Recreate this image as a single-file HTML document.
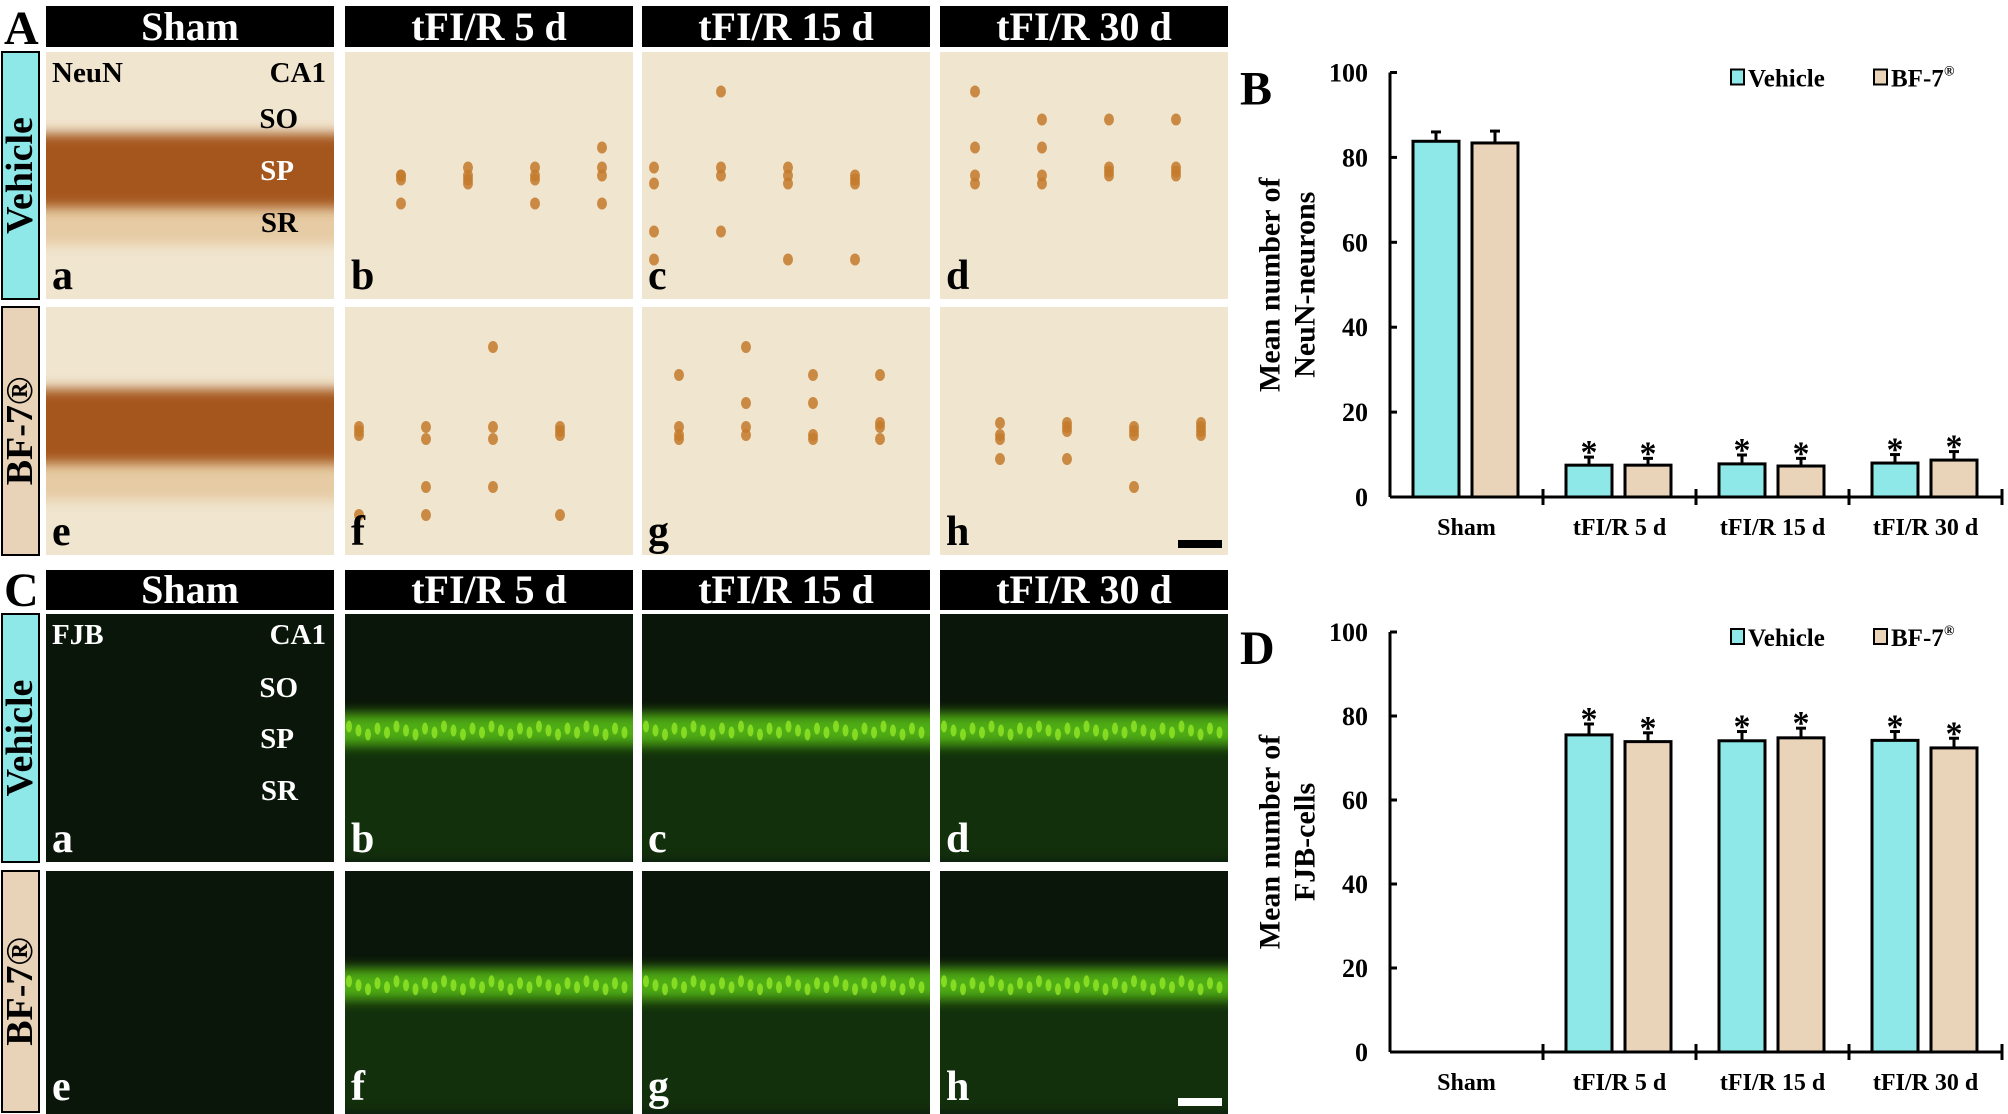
<!DOCTYPE html>
<html><head><meta charset="utf-8"><style>
html,body{margin:0;padding:0;background:#fff;}
svg{display:block;font-family:"Liberation Serif",serif;font-weight:bold;}
</style></head><body>
<svg id="fig" width="2008" height="1114" viewBox="0 0 2008 1114" xmlns="http://www.w3.org/2000/svg">
<defs id="defs">
<filter id="blur6" x="-20%" y="-50%" width="140%" height="200%"><feGaussianBlur stdDeviation="6"/></filter>
<filter id="blur3" x="-20%" y="-50%" width="140%" height="200%"><feGaussianBlur stdDeviation="3"/></filter>
</defs>
<g id="micro"></g>
<g id="chartB"></g>
<g id="chartD"></g>
</svg>
<script>
// ---------- Chart data ----------
const categories = ["Sham", "tFI/R 5 d", "tFI/R 15 d", "tFI/R 30 d"];
const yTicks = [0, 20, 40, 60, 80, 100];
const neunVehicle = [83.8, 7.5, 7.8, 8.0];
const neunVehicleErr = [2.2, 1.9, 2.1, 2.0];
const neunBF7 = [83.4, 7.5, 7.3, 8.7];
const neunBF7Err = [2.8, 1.6, 1.8, 2.0];
const neunStars = [false, true, true, true];
const fjbVehicle = [0, 75.5, 74.1, 74.2];
const fjbVehicleErr = [0, 2.6, 2.2, 2.1];
const fjbBF7 = [0, 73.9, 74.8, 72.4];
const fjbBF7Err = [0, 2.1, 2.3, 2.3];
const fjbStars = [false, true, true, true];

const NS = "http://www.w3.org/2000/svg";
function mk(tag, attrs, parent, text) {
  const e = document.createElementNS(NS, tag);
  for (const k in attrs) e.setAttribute(k, attrs[k]);
  if (text !== undefined) e.textContent = text;
  parent.appendChild(e);
  return e;
}
const defs = document.getElementById("defs");
let clipN = 0;
function clipFor(x, y, w, h) {
  const id = "clip" + (clipN++);
  const cp = mk("clipPath", {id: id}, defs);
  mk("rect", {x: x, y: y, width: w, height: h}, cp);
  return "url(#" + id + ")";
}

// ---------- Micrograph panels ----------
const micro = document.getElementById("micro");
const colX = [46, 345, 642, 940];
const colW = 288;
const heads = ["Sham", "tFI/R 5 d", "tFI/R 15 d", "tFI/R 30 d"];
const rowsA = [[52, 299], [307, 555]];
const rowsC = [[614, 862], [871, 1114]];
const letters = [["a","b","c","d"],["e","f","g","h"]];

function header(y0, y1, idx) {
  const r = mk("rect", {x: colX[idx], y: y0, width: colW, height: y1 - y0, fill: "#000"}, micro);
  
  
  const t = mk("text", {x: colX[idx] + colW/2, y: y1 - 7, "text-anchor": "middle", "font-size": 40, fill: "#fff"}, micro, heads[idx]);
  
  
}
function sideLabel(y0, y1, txt, fill) {
  const r = mk("rect", {x: 2, y: y0, width: 37, height: y1 - y0, fill: fill, stroke: "#000", "stroke-width": 2}, micro);
  
  
  const cy = (y0 + y1) / 2;
  const t = mk("text", {x: 20, y: cy, transform: `rotate(-90 20 ${cy})`, "text-anchor": "middle", "dominant-baseline": "central", "font-size": 38, fill: "#000"}, micro, txt);
  
  
}

function brownPanel(x, y0, y1, sham, letter, seed) {
  const h = y1 - y0;
  const g = mk("g", {"clip-path": clipFor(x, y0, colW, h)}, micro);
  
  
  mk("rect", {x: x, y: y0, width: colW, height: h, fill: "#f0e5cf"}, g);
  if (sham) {
    mk("rect", {x: x - 20, y: y0 + h*0.56, width: colW + 40, height: h*0.22, fill: "#e2c192", filter: "url(#blur6)", opacity: 0.7}, g);
    mk("rect", {x: x - 20, y: y0 + h*0.33, width: colW + 40, height: h*0.3, fill: "#a5561a", filter: "url(#blur6)"}, g);
  } else {
    for (let i = 0; i < 16; i++) {
      const s = (seed * 37 + i * 53) % 97;
      const cx = x + 10 + ((i * 67 + seed * 23) % 268);
      const off = (i % 3 === 0) ? ((s % 7) - 3) * 28 : ((s % 5) - 2) * 4;
      const cy = y0 + h*0.5 + off;
      mk("ellipse", {cx: cx, cy: cy, rx: 5, ry: 6, fill: "#c47a2c", opacity: 0.85}, g);
    }
  }
  mk("text", {x: x + 6, y: y1 - 10, "font-size": 42, fill: "#000"}, g, letter);
}
function greenPanel(x, y0, y1, sham, letter) {
  const h = y1 - y0;
  const g = mk("g", {"clip-path": clipFor(x, y0, colW, h)}, micro);
  
  
  mk("rect", {x: x, y: y0, width: colW, height: h, fill: "#0a160a"}, g);
  if (!sham) {
    mk("rect", {x: x - 20, y: y0 + h*0.5, width: colW + 40, height: h*0.5, fill: "#133a0c", filter: "url(#blur6)", opacity: 0.7}, g);
    mk("rect", {x: x - 20, y: y0 + h*0.4, width: colW + 40, height: h*0.13, fill: "#5cc814", filter: "url(#blur6)", opacity: 0.85}, g);
    for (let i = 0; i < 30; i++) {
      const cx = x + 4 + i * 9.5;
      mk("ellipse", {cx: cx, cy: y0 + h*0.47 + ((i * 7) % 5 - 2) * 2, rx: 3, ry: 6, fill: "#9cf02a", opacity: 0.7}, g);
    }
  }
  mk("text", {x: x + 6, y: Math.min(y1, 1110) - 10, "font-size": 42, fill: "#fff"}, g, letter);
}

// Section A
mk("text", {x: 4, y: 44, "font-size": 48, fill: "#000"}, micro, "A");
for (let i = 0; i < 4; i++) header(6, 47, i);
sideLabel(52, 299, "Vehicle", "#8ee8e8");
sideLabel(307, 555, "BF-7®", "#e8d3b8");
for (let r = 0; r < 2; r++) for (let c = 0; c < 4; c++)
  brownPanel(colX[c], rowsA[r][0], rowsA[r][1], c === 0, letters[r][c], r * 4 + c + 1);
mk("text", {x: 52, y: 82, "font-size": 29, fill: "#000"}, micro, "NeuN");
mk("text", {x: 326, y: 82, "text-anchor": "end", "font-size": 29, fill: "#000"}, micro, "CA1");
mk("text", {x: 298, y: 128, "text-anchor": "end", "font-size": 29, fill: "#000"}, micro, "SO");
mk("text", {x: 294, y: 180, "text-anchor": "end", "font-size": 29, fill: "#fff"}, micro, "SP");
mk("text", {x: 298, y: 232, "text-anchor": "end", "font-size": 29, fill: "#000"}, micro, "SR");
mk("rect", {x: 1178, y: 540, width: 44, height: 8, fill: "#000"}, micro);

// Section C
mk("text", {x: 4, y: 606, "font-size": 48, fill: "#000"}, micro, "C");
for (let i = 0; i < 4; i++) header(570, 610, i);
sideLabel(614, 862, "Vehicle", "#8ee8e8");
sideLabel(871, 1112, "BF-7®", "#e8d3b8");
for (let r = 0; r < 2; r++) for (let c = 0; c < 4; c++)
  greenPanel(colX[c], rowsC[r][0], rowsC[r][1], c === 0, letters[r][c]);
mk("text", {x: 52, y: 644, "font-size": 29, fill: "#fff"}, micro, "FJB");
mk("text", {x: 326, y: 644, "text-anchor": "end", "font-size": 29, fill: "#fff"}, micro, "CA1");
mk("text", {x: 298, y: 697, "text-anchor": "end", "font-size": 29, fill: "#fff"}, micro, "SO");
mk("text", {x: 294, y: 748, "text-anchor": "end", "font-size": 29, fill: "#fff"}, micro, "SP");
mk("text", {x: 298, y: 800, "text-anchor": "end", "font-size": 29, fill: "#fff"}, micro, "SR");
mk("rect", {x: 1178, y: 1098, width: 44, height: 8, fill: "#fff"}, micro);

// ---------- Bar charts ----------
function barChart(gid, top, bottom, panelLetter, title2, vVals, vErr, bVals, bErr, stars) {
  const g = document.getElementById(gid);
  const x0 = 1390, x1 = 2002, catW = (x1 - x0) / categories.length;
  const y = v => bottom - (v / 100) * (bottom - top);
  const xCat = i => x0 + i * catW;
  const barW = 46;

  const pl = mk("text", {x: 1240, y: top + 32, "font-size": 48, fill: "#000"}, g, panelLetter);
  
  

  const ya = mk("line", {x1: x0, y1: top, x2: x0, y2: bottom, stroke: "#000", "stroke-width": 3}, g);
  
  
  yTicks.forEach(t => {
    mk("line", {x1: x0, y1: y(t), x2: x0 + 7, y2: y(t), stroke: "#000", "stroke-width": 3}, g);
    const tl = mk("text", {x: x0 - 22, y: y(t) + 9, "text-anchor": "end", "font-size": 26, fill: "#000"}, g, String(t));
    
    
  });
  const xa = mk("line", {x1: x0, y1: bottom, x2: x1, y2: bottom, stroke: "#000", "stroke-width": 3}, g);
  
  
  for (let i = 1; i <= categories.length; i++)
    mk("line", {x1: xCat(i), y1: bottom - 8, x2: xCat(i), y2: bottom + 8, stroke: "#000", "stroke-width": 3}, g);

  const ty = (top + bottom) / 2;
  const t1 = mk("text", {x: 1270, y: ty, transform: `rotate(-90 1270 ${ty})`, "text-anchor": "middle", "dominant-baseline": "central", "font-size": 30, fill: "#000"}, g, "Mean number of");
  
  
  const t2 = mk("text", {x: 1305, y: ty, transform: `rotate(-90 1305 ${ty})`, "text-anchor": "middle", "dominant-baseline": "central", "font-size": 30, fill: "#000"}, g, title2);
  
  

  categories.forEach((c, i) => {
    const cl = mk("text", {x: xCat(i) + catW/2, y: bottom + 38, "text-anchor": "middle", "font-size": 24, fill: "#000"}, g, c);
    
    
    const series = [[vVals, vErr, "#8fe8e8", 23, "vehicle"], [bVals, bErr, "#e9d4b9", 82, "bf7"]];
    series.forEach(([vals, errs, fill, off, nm]) => {
      const v = vals[i];
      if (v <= 0) return;
      const bx = xCat(i) + off;
      const eTop = y(v + errs[i]);
      const el = mk("line", {x1: bx + barW/2, y1: y(v), x2: bx + barW/2, y2: eTop, stroke: "#000", "stroke-width": 3}, g);
      
      
      mk("line", {x1: bx + barW/2 - 5, y1: eTop, x2: bx + barW/2 + 5, y2: eTop, stroke: "#000", "stroke-width": 3}, g);
      const b = mk("rect", {x: bx, y: y(v), width: barW, height: bottom - y(v), fill: fill, stroke: "#000", "stroke-width": 3}, g);
      
      
      if (stars[i]) {
        const s = mk("text", {x: bx + barW/2, y: eTop + 6, "text-anchor": "middle", "font-size": 34, fill: "#000"}, g, "*");
        
        
      }
    });
  });

  const lg = mk("g", {}, g);
  
  
  const ly = top + 4;
  const r1 = mk("rect", {x: 1731, y: ly - 7, width: 13, height: 15, fill: "#8fe8e8", stroke: "#000", "stroke-width": 2}, lg);
  
  
  const l1 = mk("text", {x: 1748, y: ly + 10, "font-size": 25, fill: "#000"}, lg, "Vehicle");
  
  
  const r2 = mk("rect", {x: 1874, y: ly - 7, width: 13, height: 15, fill: "#e9d4b9", stroke: "#000", "stroke-width": 2}, lg);
  
  
  const l2 = mk("text", {x: 1891, y: ly + 10, "font-size": 25, fill: "#000"}, lg, "BF-7");
  
  
  mk("text", {x: 1944, y: ly - 1, "font-size": 14, fill: "#000"}, lg, "®");
}

barChart("chartB", 72.5, 497, "B", "NeuN-neurons", neunVehicle, neunVehicleErr, neunBF7, neunBF7Err, neunStars);
barChart("chartD", 632, 1052, "D", "FJB-cells", fjbVehicle, fjbVehicleErr, fjbBF7, fjbBF7Err, fjbStars);
</script>
</body></html>
